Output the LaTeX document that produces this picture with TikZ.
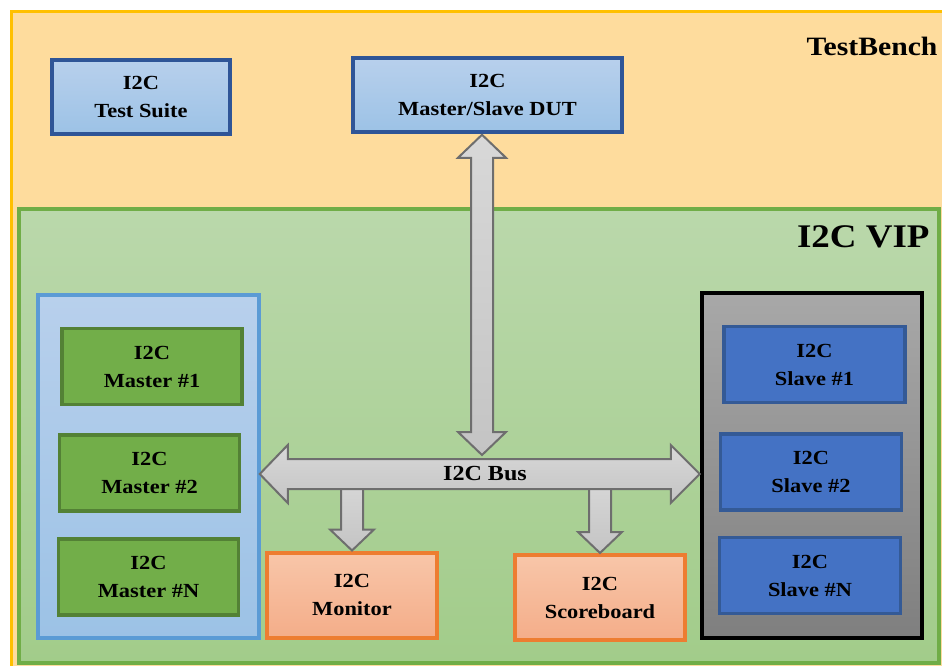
\documentclass[tikz,border=0pt]{standalone}
\usepackage{fontspec}
\setmainfont{Liberation Serif}[FakeStretch=1.12]
\usetikzlibrary{calc}

\definecolor{tbfill}{HTML}{FEDC9D}
\definecolor{tbline}{HTML}{FFC000}
\definecolor{viptop}{HTML}{BAD8AB}
\definecolor{vipbot}{HTML}{A2CC8A}
\definecolor{vipline}{HTML}{70AD47}
\definecolor{bluetop}{HTML}{B8D0EC}
\definecolor{bluebot}{HTML}{9CC2E6}
\definecolor{blueline}{HTML}{2F5597}
\definecolor{mgrpline}{HTML}{5B9BD5}
\definecolor{mfill}{HTML}{72AE49}
\definecolor{mline}{HTML}{538135}
\definecolor{sgrptop}{HTML}{A8A8A8}
\definecolor{sgrpbot}{HTML}{7F7F7F}
\definecolor{sfill}{HTML}{4472C4}
\definecolor{sline}{HTML}{345A96}
\definecolor{orgtop}{HTML}{F8C6A9}
\definecolor{orgbot}{HTML}{F4AD89}
\definecolor{orgline}{HTML}{ED7D31}
\definecolor{arrtop}{HTML}{D8D8D8}
\definecolor{arrbot}{HTML}{C4C4C4}
\definecolor{arrline}{HTML}{6E6E6E}

\tikzset{
  boxtext/.style = {align=center, font=\bfseries\fontsize{20}{28}\selectfont, inner sep=0pt},
  bluebox/.style = {boxtext, draw=blueline, line width=3.5pt, top color=bluetop, bottom color=bluebot},
  masterbox/.style = {boxtext, draw=mline, line width=3.5pt, fill=mfill, minimum width=180pt, minimum height=76pt},
  slavebox/.style = {boxtext, draw=sline, line width=3.5pt, fill=sfill, minimum width=181pt, minimum height=76pt},
  orangebox/.style = {boxtext, draw=orgline, line width=4pt, top color=orgtop, bottom color=orgbot, minimum width=170pt, minimum height=85pt},
  blockarrow/.style = {draw=arrline, line width=2pt, line join=miter, top color=arrtop, bottom color=arrbot}
}

\begin{document}
\begin{tikzpicture}[x=1pt, y=-1pt]
\useasboundingbox (0,0) rectangle (942,666);
\fill[white] (0,0) rectangle (942,666);

% testbench
\draw[draw=tbline, line width=3pt, fill=tbfill] (11,12) rectangle (960,690);
\node[anchor=east, font=\bfseries\fontsize{26.5}{30}\selectfont] (tblabel) at (941,46) {TestBench};

% vip
\draw[draw=vipline, line width=3.5pt, top color=viptop, bottom color=vipbot] (19,209) rectangle (939,663);
\node[anchor=east, font=\bfseries\fontsize{33}{36}\selectfont] (viplabel) at (933,237) {I2C VIP};

% top row
\node[bluebox, minimum width=178pt, minimum height=74pt] (suite) at (141,97) {I2C\\Test Suite};
\node[bluebox, minimum width=269pt, minimum height=74pt] (dut) at (487.5,95) {I2C\\Master/Slave DUT};

% masters
\node[draw=mgrpline, line width=3.5pt, top color=bluetop, bottom color=bluebot, minimum width=221pt, minimum height=343pt] (mgrp) at (148.5,466.5) {};
\node[masterbox] (m1) at (152,366.5) {I2C\\Master \#1};
\node[masterbox] (m2) at (149.5,473) {I2C\\Master \#2};
\node[masterbox] (mn) at (148.5,577) {I2C\\Master \#N};

% slaves
\node[draw=black, line width=4.5pt, top color=sgrptop, bottom color=sgrpbot, minimum width=220pt, minimum height=345pt] (sgrp) at (812,465.5) {};
\node[slavebox] (s1) at (814.5,364.5) {I2C\\Slave \#1};
\node[slavebox] (s2) at (811,472) {I2C\\Slave \#2};
\node[slavebox] (sn) at (810,575.5) {I2C\\Slave \#N};

% monitor and scoreboard
\node[orangebox] (mon) at (352,595) {I2C\\Monitor};
\node[orangebox] (sb) at (600,597.5) {I2C\\Scoreboard};

% arrows
\coordinate (monsrc) at ($(mon.north)+(0,-72)$);
\coordinate (sbsrc) at ($(sb.north)+(0,-75)$);
\coordinate (bustop) at (482,455);

\draw[blockarrow] ($(monsrc)+(-11,0)$) -- ($(mon.north)+(-11,-21)$) -- ++(-11,0) -- (mon.north) -- ++(22,-21) -- ++(-11,0) -- ($(monsrc)+(11,0)$) -- cycle;
\draw[blockarrow] ($(sbsrc)+(-11,0)$) -- ($(sb.north)+(-11,-21)$) -- ++(-11,0) -- (sb.north) -- ++(22,-21) -- ++(-11,0) -- ($(sbsrc)+(11,0)$) -- cycle;

\draw[blockarrow] ($(dut.south)+(-5.5,1)$) coordinate (duttip) -- ++(24,23) -- ++(-13,0) -- ($(bustop)+(11,-23)$) -- ++(13,0) -- (bustop) -- ++(-24,-23) -- ++(13,0) -- ($(duttip)+(-11,23)$) -- ++(-13,0) -- cycle;

\draw[blockarrow] ($(mgrp.east)!(bustop)!(mgrp.north east)$) ++(-1,19) coordinate (busl)
  -- ++(28,-29) -- ++(0,14) -- ($(sgrp.west |- busl)+(-29,-15)$) -- ++(0,-14) -- (sgrp.west |- busl)
  -- ++(-29,29) -- ++(0,-14) -- ($(busl)+(28,15)$) -- ++(0,14) -- cycle;
\node[font=\bfseries\fontsize{21.5}{24}\selectfont] (buslabel) at (485,474) {I2C Bus};
\end{tikzpicture}
\end{document}
